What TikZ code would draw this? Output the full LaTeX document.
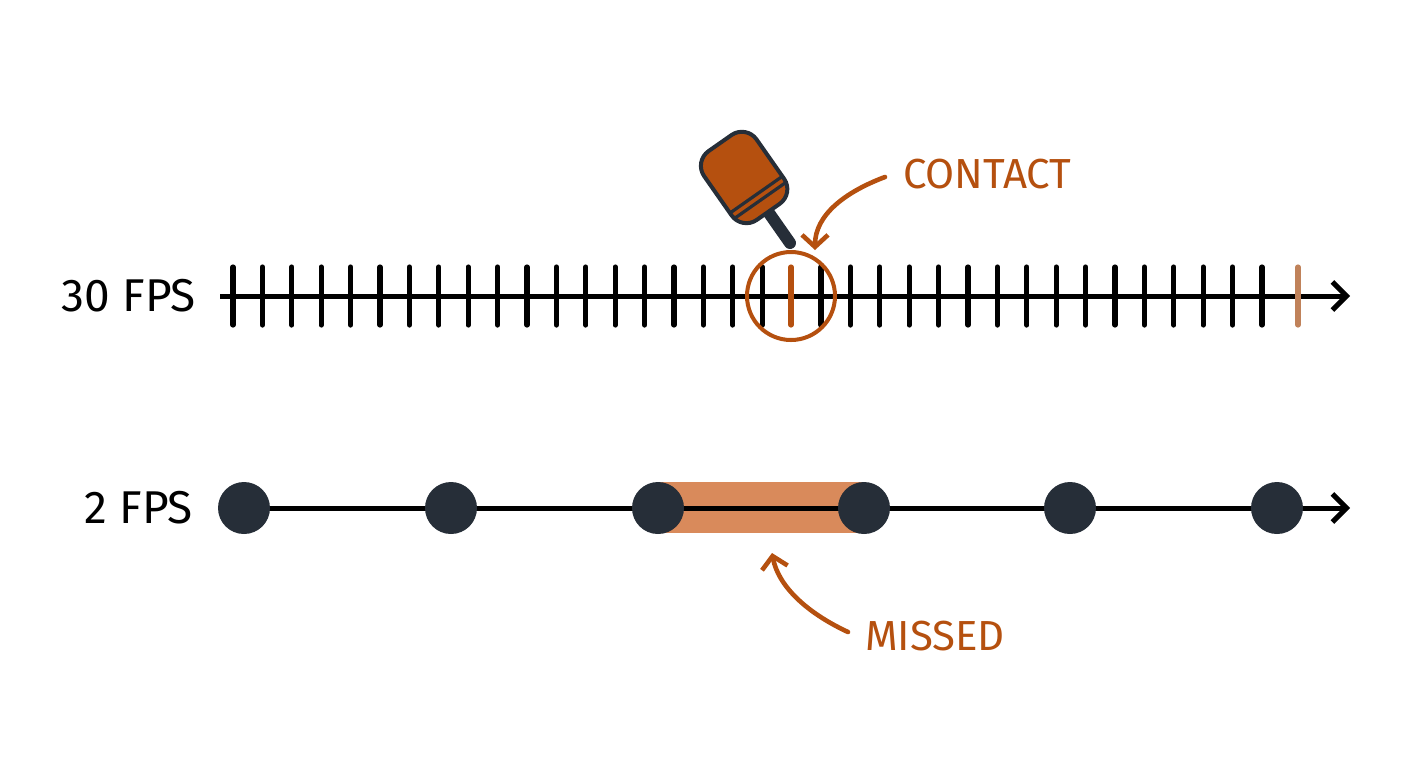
\documentclass[tikz,border=0pt]{standalone}
\usepackage{fontspec}
\setmainfont{Fira Sans}
\usetikzlibrary{arrows.meta}
\definecolor{org}{HTML}{B5500F}
\definecolor{band}{HTML}{D98A5B}
\definecolor{lt}{HTML}{C0825A}
\definecolor{dk}{HTML}{262E38}
\begin{document}
\begin{tikzpicture}[x=0.5pt,y=-0.5pt,
  tick/.style={line width=2.6pt,line cap=round},
  axis/.style={line width=2.5pt,-{Straight Barb[length=7pt,width=14pt,line width=2.5pt]}},
  lbl/.style={font=\fontsize{23}{26}\selectfont},
  olbl/.style={font=\fontsize{21}{24}\selectfont,text=org},
  oarrow/.style={org,line width=2.3pt,line cap=round,-{Straight Barb[length=6pt,width=13pt,line width=2.3pt]}},
  dot/.style={circle,fill=dk,minimum size=26pt,inner sep=0pt}]
\useasboundingbox (0,0) rectangle (1408,768);
% top timeline
\coordinate (a0) at (220,296);
\coordinate (a1) at (1350,296);
\draw[axis] (a0) -- (a1);
\foreach \k in {0,...,35}{
  \ifnum\k=19\else
  \draw[tick] ({233+29.4*\k},267) -- ({233+29.4*\k},325);
  \fi}
\draw[tick,org] (791,267) -- (791,325);
\node[circle,draw=org,line width=2pt,minimum size=44pt,inner sep=0pt] (hit) at (791,296) {};
\draw[tick,lt] (1298,267) -- (1298,325);
\node[lbl,anchor=east] (l30) at (203,296) {30 FPS};
% paddle
\begin{scope}[shift={(790,243)},rotate=35]
  \draw[dk,line width=6pt,line cap=round] (0,0) -- (0,-40);
  \draw[fill=org,draw=dk,line width=2pt,rounded corners=9pt] (-32,-38) rectangle (32,-122);
  \draw[dk,line width=1.6pt] (-32,-52) -- (32,-52) (-32,-59) -- (32,-59);
\end{scope}
% contact label
\node[olbl,anchor=west] (contact) at (896,174) {CONTACT};
\coordinate (cs) at (885,177);
\coordinate (ce) at (815,250);
\draw[oarrow] (cs) .. controls (845,192) and (815,215) .. (ce);
% bottom timeline
\coordinate (b0) at (244,508);
\coordinate (b1) at (1350,508);
\fill[band] (658,482) rectangle (864,533);
\draw[axis] (b0) -- (b1);
\foreach \x/\n in {244/d1,451/d2,658/d3,864/d4,1070/d5,1277/d6}
  \node[dot] (\n) at (\x,508) {};
\node[lbl,anchor=east] (l2) at (200,508) {2 FPS};
% missed label
\node[olbl,anchor=west] (missed) at (858,636) {MISSED};
\coordinate (ms) at (848,632);
\coordinate (me) at (772,553);
\draw[oarrow] (ms) .. controls (805,612) and (778,585) .. (me);
\end{tikzpicture}
\end{document}
